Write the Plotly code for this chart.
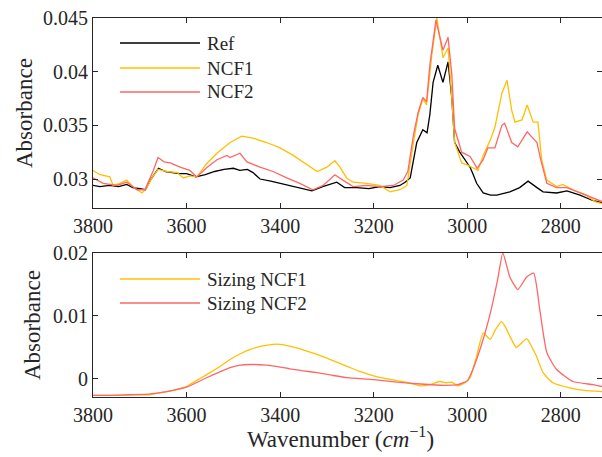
import plotly.graph_objects as go

# ---------------- data ----------------
top_x_ticks = [3800, 3600, 3400, 3200, 3000, 2800]
top_y_ticks = [0.03, 0.035, 0.04, 0.045]
top_y_ticktext = ["0.03", "0.035", "0.04", "0.045"]
bot_y_ticks = [0, 0.01, 0.02]
bot_y_ticktext = ["0", "0.01", "0.02"]

ref_wn = [3800, 3785, 3765, 3745, 3728, 3715, 3700, 3688, 3676, 3660, 3645, 3630, 3615, 3600,
          3580, 3560, 3540, 3520, 3500, 3486, 3470, 3458, 3443, 3420, 3400, 3380, 3358, 3332,
          3309, 3290, 3279, 3262, 3236, 3210, 3187, 3165, 3144, 3133, 3122, 3108, 3095, 3086,
          3080, 3073, 3063, 3052, 3041, 3033, 3027, 3016, 3001, 2994, 2988, 2980, 2966, 2950,
          2937, 2920, 2909, 2888, 2870, 2851, 2838, 2809, 2787, 2759, 2732, 2712]
ref_abs = [0.0294, 0.0293, 0.0294, 0.0293, 0.0295, 0.0292, 0.0291, 0.0290, 0.0300, 0.0310,
           0.0307, 0.0306, 0.0305, 0.0305, 0.0302, 0.0304, 0.0307, 0.0309, 0.0310, 0.0308,
           0.0309, 0.0306, 0.0300, 0.0298, 0.0296, 0.0294, 0.0292, 0.0289, 0.0293, 0.0296,
           0.0297, 0.0292, 0.0292, 0.0291, 0.0293, 0.0292, 0.0294, 0.0297, 0.0301, 0.0334,
           0.0346, 0.0343, 0.0360, 0.0390, 0.0406, 0.0390, 0.0409, 0.0375, 0.0334, 0.0325,
           0.0316, 0.0311, 0.0305, 0.0296, 0.0287, 0.0285, 0.0285, 0.0287, 0.0288, 0.0292,
           0.0298, 0.0292, 0.0288, 0.0287, 0.0289, 0.0285, 0.0280, 0.0278]

ncf1_wn = [3800, 3785, 3764, 3757, 3742, 3728, 3717, 3706, 3695, 3685, 3674, 3661, 3642, 3620,
           3607, 3593, 3578, 3556, 3535, 3514, 3507, 3482, 3458, 3429, 3400, 3372, 3343, 3321,
           3300, 3283, 3272, 3258, 3244, 3215, 3187, 3165, 3144, 3129, 3115, 3105, 3095, 3087,
           3076, 3065, 3052, 3041, 3033, 3027, 3012, 2999, 2986, 2977, 2966, 2951, 2941, 2926,
           2915, 2905, 2898, 2883, 2872, 2859, 2849, 2841, 2830, 2809, 2796, 2774, 2745, 2727,
           2712]
ncf1_abs = [0.0308, 0.0304, 0.0302, 0.0294, 0.0296, 0.0299, 0.0294, 0.0290, 0.0287, 0.0292,
            0.0301, 0.0309, 0.0307, 0.0306, 0.0301, 0.0303, 0.0302, 0.0315, 0.0324, 0.0332,
            0.0334, 0.0340, 0.0338, 0.0334, 0.0329, 0.0322, 0.0313, 0.0307, 0.0311, 0.0317,
            0.0311, 0.0301, 0.0297, 0.0296, 0.0294, 0.0288, 0.0290, 0.0294, 0.0334, 0.0360,
            0.0375, 0.0369, 0.0415, 0.0450, 0.0413, 0.0422, 0.0375, 0.0334, 0.0315, 0.0313,
            0.0310, 0.0308, 0.0322, 0.0336, 0.0348, 0.0380, 0.0392, 0.0364, 0.0353, 0.0355,
            0.0369, 0.0353, 0.0353, 0.0318, 0.0299, 0.0293, 0.0295, 0.0290, 0.0285, 0.0279,
            0.0277]

ncf2_wn = [3800, 3778, 3749, 3728, 3706, 3689, 3671, 3661, 3648, 3635, 3614, 3593, 3578, 3556,
           3535, 3514, 3507, 3486, 3471, 3443, 3415, 3386, 3358, 3330, 3308, 3283, 3266, 3244,
           3215, 3187, 3158, 3137, 3127, 3115, 3105, 3095, 3087, 3080, 3067, 3052, 3041, 3033,
           3027, 3012, 2994, 2979, 2966, 2956, 2941, 2926, 2920, 2905, 2892, 2872, 2851, 2843,
           2830, 2809, 2787, 2759, 2734, 2712]
ncf2_abs = [0.0301, 0.0296, 0.0294, 0.0297, 0.0290, 0.0290, 0.0308, 0.0320, 0.0316, 0.0315,
            0.0311, 0.0308, 0.0302, 0.0311, 0.0318, 0.0322, 0.0320, 0.0324, 0.0316, 0.0311,
            0.0307, 0.0301, 0.0296, 0.0290, 0.0294, 0.0304, 0.0299, 0.0293, 0.0294, 0.0293,
            0.0294, 0.0299, 0.0307, 0.0341, 0.0362, 0.0376, 0.0372, 0.0406, 0.0448, 0.0420,
            0.0432, 0.0397, 0.0347, 0.0325, 0.0321, 0.0310, 0.0318, 0.0329, 0.0329, 0.0350,
            0.0352, 0.0334, 0.0330, 0.0344, 0.0334, 0.0318, 0.0296, 0.0292, 0.0292, 0.0287,
            0.0283, 0.0279]

s1_wn = [3800, 3760, 3720, 3680, 3650, 3629, 3600, 3580, 3557, 3530, 3507, 3485, 3464, 3440,
         3415, 3400, 3379, 3350, 3321, 3290, 3257, 3230, 3200, 3170, 3140, 3115, 3100, 3080,
         3059, 3045, 3033, 3020, 3005, 2994, 2980, 2966, 2951, 2940, 2927, 2918, 2909, 2895,
         2873, 2860, 2852, 2838, 2817, 2781, 2750, 2712]
s1_abs = [-0.0026, -0.0026, -0.0025, -0.0025, -0.0021, -0.0018, -0.0012, -0.0003, 0.0007,
          0.0019, 0.0031, 0.0040, 0.0047, 0.0052, 0.0055, 0.0055, 0.0052, 0.0046, 0.0039,
          0.0030, 0.0020, 0.0012, 0.0005, 0.0000, -0.0004, -0.0008, -0.0011, -0.0009,
          -0.0004, -0.0006, -0.0005, -0.0011, -0.0006, 0.0002, 0.0036, 0.0073, 0.0063,
          0.0078, 0.0091, 0.0082, 0.0068, 0.0050, 0.0064, 0.0048, 0.0036, 0.0010, -0.0006,
          -0.0014, -0.0018, -0.0020]

s2_wn = [3800, 3760, 3720, 3680, 3650, 3629, 3600, 3557, 3530, 3507, 3485, 3464, 3430, 3400,
         3379, 3350, 3321, 3290, 3257, 3200, 3150, 3100, 3050, 3020, 3000, 2994, 2980, 2962,
         2948, 2935, 2924, 2909, 2892, 2873, 2858, 2845, 2830, 2809, 2774, 2731, 2712]
s2_abs = [-0.0026, -0.0026, -0.0025, -0.0024, -0.0021, -0.0018, -0.0013, 0.0002, 0.0011,
          0.0018, 0.0022, 0.0023, 0.0022, 0.0019, 0.0016, 0.0013, 0.0010, 0.0006, 0.0002,
          -0.0001, -0.0005, -0.0008, -0.0010, -0.0009, -0.0003, 0.0005, 0.0031, 0.0073,
          0.0113, 0.0158, 0.0200, 0.0162, 0.0142, 0.0162, 0.0168, 0.0110, 0.0042, 0.0015,
          -0.0004, -0.0009, -0.0012]

top_names = ["Ref", "NCF1", "NCF2"]
bot_names = ["Sizing NCF1", "Sizing NCF2"]
y_title = "Absorbance"
x_title = "Wavenumber (<i>cm</i><sup>\u22121</sup>)"

# ---------------- style ----------------
BLACK = "#000000"
YELLOW = "#FFC000"
RED = "#FF6666"
AX = "#262626"
FONT = "Liberation Serif"
LW = 1.3

fig = go.Figure()
top_series = [(ref_wn, ref_abs, BLACK), (ncf1_wn, ncf1_abs, YELLOW), (ncf2_wn, ncf2_abs, RED)]
for name, (xs, ys, c) in zip(top_names, top_series):
    fig.add_trace(go.Scatter(x=xs, y=ys, mode="lines", name=name,
                             line=dict(color=c, width=LW), xaxis="x", yaxis="y",
                             showlegend=False))
bot_series = [(s1_wn, s1_abs, YELLOW), (s2_wn, s2_abs, RED)]
for name, (xs, ys, c) in zip(bot_names, bot_series):
    fig.add_trace(go.Scatter(x=xs, y=ys, mode="lines", name=name,
                             line=dict(color=c, width=LW, shape="spline", smoothing=0.5),
                             xaxis="x2", yaxis="y2", showlegend=False))

# margins / plot geometry
L, R, T, B = 93, 0, 18, 60
W, H = 602, 457
pw, ph = W - L - R, H - T - B
top_dom = [(397 - 208) / ph, 1.0]
bot_dom = [0.0, (397 - 253) / ph]

common_x = dict(range=[3800, 2712], tickvals=top_x_ticks, ticks="inside", ticklen=5,
                tickwidth=1, tickcolor=AX, showline=True, linecolor=AX, linewidth=1,
                mirror="ticks", showgrid=False, zeroline=False, automargin=False,
                tickfont=dict(family=FONT, size=20, color=AX))
common_y = dict(ticks="inside", ticklen=5, tickwidth=1, tickcolor=AX, showline=True,
                linecolor=AX, linewidth=1, mirror="ticks", showgrid=False, zeroline=False,
                automargin=False, tickfont=dict(family=FONT, size=20, color=AX))

fig.update_layout(
    width=W, height=H, margin=dict(l=L, r=R, t=T, b=B),
    paper_bgcolor="white", plot_bgcolor="white", showlegend=False,
    xaxis=dict(domain=[0, 1], anchor="y", **common_x),
    yaxis=dict(domain=top_dom, anchor="x", range=[0.0273, 0.045], tickvals=top_y_ticks,
               ticktext=top_y_ticktext, **common_y),
    xaxis2=dict(domain=[0, 1], anchor="y2", **common_x),
    yaxis2=dict(domain=bot_dom, anchor="x2", range=[-0.00286, 0.02], tickvals=bot_y_ticks,
                ticktext=bot_y_ticktext, **common_y),
)


def px2paper(x, y):
    return (x - L) / pw, (H - B - y) / ph


# axis titles placed as annotations
tfont = dict(family=FONT, size=23, color=AX)
for xpx, ypx in [(24, 113), (32, 325)]:
    xp, yp = px2paper(xpx, ypx)
    fig.add_annotation(xref="paper", yref="paper", x=xp, y=yp, text=y_title, textangle=-90,
                       showarrow=False, xanchor="center", yanchor="middle", font=tfont)
xp, yp = px2paper(340, 437)
fig.add_annotation(xref="paper", yref="paper", x=xp, y=yp, text=x_title, showarrow=False,
                   xanchor="center", yanchor="middle", font=tfont)

# legends drawn as line samples + text labels (long MATLAB-style samples)
legend_rows = [(top_names[0], BLACK, 43), (top_names[1], YELLOW, 68), (top_names[2], RED, 92),
               (bot_names[0], YELLOW, 279), (bot_names[1], RED, 303)]
for label, c, ypx in legend_rows:
    x0, y0 = px2paper(120, ypx)
    x1, _ = px2paper(200, ypx)
    xt, _ = px2paper(205, ypx)
    fig.add_shape(type="line", xref="paper", yref="paper", x0=x0, x1=x1, y0=y0, y1=y0,
                  line=dict(color=c, width=LW))
    fig.add_annotation(xref="paper", yref="paper", x=xt, y=y0, text=label, showarrow=False,
                       xanchor="left", yanchor="middle",
                       font=dict(family=FONT, size=19, color=AX))

fig.write_html(
    "out.html",
    config={"displayModeBar": False},
    post_script="document.body.style.margin='0';document.body.style.overflow='hidden';",
)
